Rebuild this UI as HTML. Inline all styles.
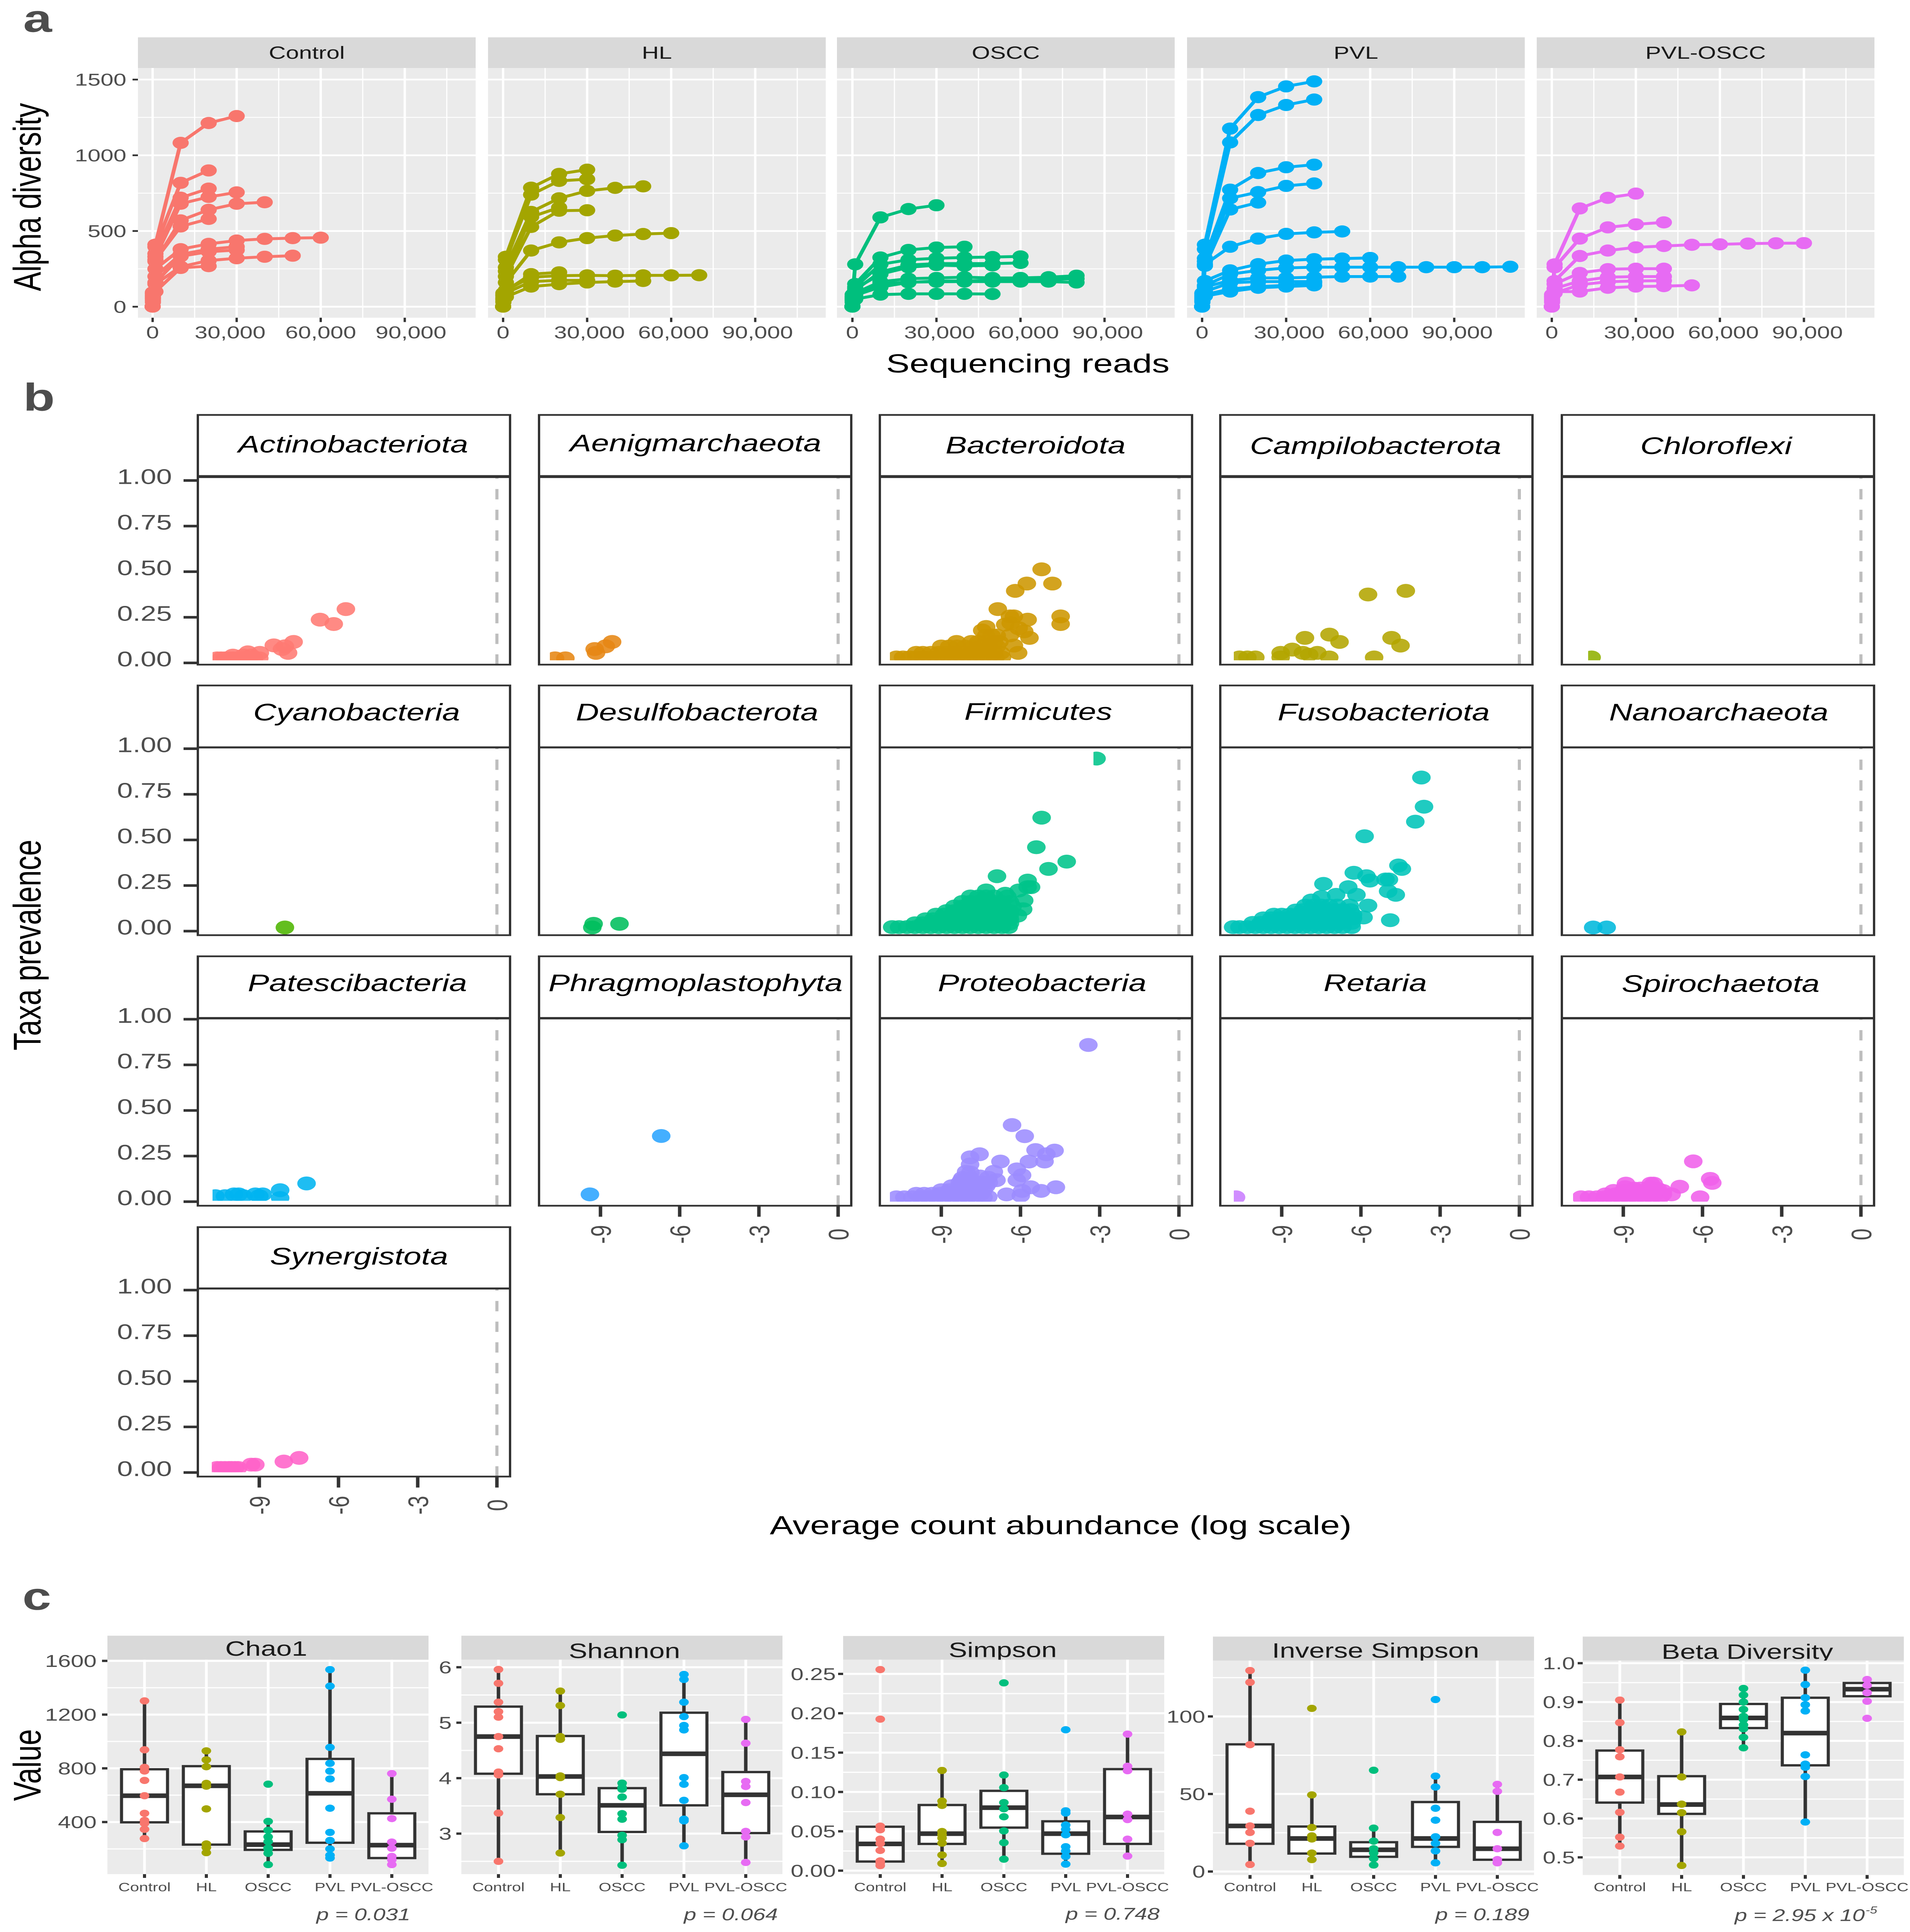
<!DOCTYPE html>
<html lang="en"><head><meta charset="utf-8"><title>Alpha diversity, taxa prevalence and diversity indices</title>
<style>html,body{margin:0;padding:0;background:#fff;overflow:hidden}svg{display:block;font-family:"Liberation Sans",sans-serif}</style></head>
<body>
<svg id="figure" width="4943" height="6677" viewBox="0 0 4943 6677" preserveAspectRatio="none">
<rect width="4943" height="6677" fill="#fff"/>
<text x="60" y="110" font-size="134" font-weight="700" fill="#4d4d4d">a</text>
<text x="60" y="1419" font-size="134" font-weight="700" fill="#4d4d4d">b</text>
<text x="58" y="5563" font-size="134" font-weight="700" fill="#4d4d4d">c</text>
<text transform="translate(105 681) rotate(-90)" text-anchor="middle" font-size="100">Alpha diversity</text>
<text x="2660" y="1287" text-anchor="middle" font-size="91">Sequencing reads</text>
<text transform="translate(105 3266) rotate(-90)" text-anchor="middle" font-size="100">Taxa prevalence</text>
<text x="2745" y="5302" text-anchor="middle" font-size="91">Average count abundance (log scale)</text>
<text transform="translate(105 6100) rotate(-90)" text-anchor="middle" font-size="100">Value</text>
</svg>
<script>
/* ---------- panel a data ---------- */
const alphaGroups=['Control','HL','OSCC','PVL','PVL-OSCC'];
const alphaYTicks=[0,500,1000,1500];
const alphaYMinor=[250,750,1250];
const alphaXTicks=[0,30000,60000,90000];
const alphaXMinor=[15000,45000,75000,105000];
const depths=[1,100,1000,10000,20000,30000,40000,50000,60000,70000,80000,90000,100000,110000];
const controlCurves=[
[1,70,410,1082,1213,1259],[1,60,395,818,900],[1,85,350,720,780],[1,50,330,680,725,755],
[1,90,300,570,640,680,690],[1,65,310,530,580],[1,40,250,380,415,437,448,453,456],
[1,75,200,346,380,396],[1,30,160,333,363,374],[1,55,150,264,305,320,330,337],[1,95,100,256,268]];
const hlCurves=[
[1,80,330,786,877,905],[1,60,310,740,831,842],[1,70,260,626,716,765,785,795],[1,45,235,593,655],
[1,90,200,527,634,637],[1,35,160,371,425,453,470,480,486],[1,55,110,195,205,207,205,207,207,208],
[1,75,105,215,227],[1,30,65,133,149,160,166,170],[1,50,90,166,174,174]];
const osccCurves=[
[1,80,280,590,645,670],[1,60,150,325,375,391,396],[1,70,130,280,310,320,325,328,332],
[1,50,110,230,275,285,285,285,289],[1,40,120,215,260,275,270,273],
[1,65,90,165,185,190,195,190,190,195,205],[1,45,75,130,160,170,170,175,178,180,185],
[1,30,85,150,162,165,166,166,166,166,160],[1,55,50,80,85,85,85,84]];
const pvlCurves=[
[1,85,410,1176,1384,1455,1488],[1,70,380,1085,1266,1332,1368],[1,60,320,773,883,921,938],
[1,90,300,716,757,798,814],[1,40,270,642,688],[1,75,280,396,450,481,491,497],
[1,50,170,240,281,305,314,318,322],[1,65,140,215,240,256,261,261,261,261,261,261,261,264],
[1,30,130,174,190,190,195,199,199,199],[1,55,100,158,166,166,166],[1,45,70,100,125,133,141],[1,35,80,117,133,141,158]];
const pvlOsccCurves=[
[1,80,280,649,719,747],[1,70,260,450,524,544,557],[1,60,170,335,371,392,401,409,412,417,419,420],
[1,50,150,223,248,251,251],[1,40,120,170,195,199,199],[1,65,100,100,125,133,136,141],[1,30,90,145,165,170,172]];
const alphaCurves=[controlCurves,hlCurves,osccCurves,pvlCurves,pvlOsccCurves];

/* ---------- panel b data: [log abundance, prevalence] ---------- */
const phyla=['Actinobacteriota','Aenigmarchaeota','Bacteroidota','Campilobacterota','Chloroflexi','Cyanobacteria','Desulfobacterota','Firmicutes','Fusobacteriota','Nanoarchaeota','Patescibacteria','Phragmoplastophyta','Proteobacteria','Retaria','Spirochaetota','Synergistota'];
const prevalenceYTicks=[0,0.25,0.5,0.75,1];
const prevalenceYLabels=['0.00','0.25','0.50','0.75','1.00'];
const abundanceXTicks=[-9,-6,-3,0];
const actinobacteriota=[[-10.6,.025],[-10.45,.025],[-10.3,.025],[-10.15,.025],[-10,.025],[-9.85,.025],[-9.7,.025],[-9.55,.025],[-9.4,.025],[-9.2,.025],[-9,.025],[-10,.04],[-9.6,.04],[-9.3,.04],[-9.43,.058],[-8.98,.055],[-7.91,.055],[-8.14,.076],[-8.03,.091],[-8.45,.096],[-7.7,.115],[-6.18,.213],[-6.7,.237],[-5.72,.295]];
const aenigmarchaeota=[[-10.72,.025],[-10.33,.025],[-9.17,.055],[-9.22,.076],[-8.8,.091],[-8.56,.115]];
const bacteroidota=[[-10.7,.03],[-10.45,.03],[-10.2,.03],[-9.95,.03],[-9.7,.03],[-9.45,.03],[-9.2,.03],[-8.95,.03],[-8.7,.03],[-8.45,.03],[-8.2,.03],[-7.95,.03],[-7.7,.03],[-7.45,.03],[-7.2,.03],[-6.95,.03],[-6.7,.03],
[-9.95,.055],[-9.7,.055],[-9.4,.055],[-9.1,.055],[-8.8,.055],[-8.5,.055],[-8.2,.055],[-7.9,.055],[-7.6,.055],[-7.3,.055],[-7,.055],[-6.75,.055],
[-9,.09],[-8.7,.09],[-8.4,.09],[-8.1,.09],[-7.8,.09],[-7.5,.09],[-7.2,.09],[-6.9,.09],
[-8.42,.115],[-7.86,.115],[-7.6,.115],[-7.3,.115],[-7,.115],[-6.8,.115],[-7.3,.15],[-7.1,.15],[-6.9,.15],[-7.45,.178],[-7.3,.197],
[-6.09,.055],[-6.25,.095],[-5.66,.137],[-6.4,.151],[-5.86,.173],[-6.07,.19],[-6.58,.21],[-6.37,.218],[-4.48,.213],[-5.73,.237],[-6.4,.255],[-6.25,.255],[-4.48,.255],[-6.86,.295],[-6.2,.395],[-5.76,.435],[-4.79,.435],[-5.2,.513]];
const campilobacterota=[[-10.6,.03],[-10.3,.03],[-10,.03],[-9.04,.03],[-7.2,.03],[-5.5,.03],[-7.96,.045],[-9.04,.055],[-8.2,.055],[-7.65,.055],[-8.6,.073],[-4.5,.095],[-6.81,.115],[-8.12,.137],[-4.84,.137],[-7.19,.155],[-5.73,.375],[-4.3,.395]];
const chloroflexi=[[-10.2,.03]];
const cyanobacteria=[[-8.03,.02]];
const desulfobacterota=[[-9.31,.02],[-9.26,.04],[-8.28,.04]];
const firmicutes=[[-10.86,.022],[-10.6,.022],[-10.3,.022],[-10,.022],[-9.7,.022],[-9.4,.022],[-9.1,.022],[-8.8,.022],[-8.5,.022],[-8.2,.022],[-7.9,.022],[-7.6,.022],[-7.3,.022],[-7,.022],[-6.7,.022],[-6.45,.022],
[-10,.043],[-9.7,.043],[-9.4,.043],[-9.1,.043],[-8.8,.043],[-8.5,.043],[-8.2,.043],[-7.9,.043],[-7.6,.043],[-7.3,.043],[-7,.043],[-6.7,.043],[-6.4,.043],
[-9.6,.065],[-9.3,.065],[-9,.065],[-8.7,.065],[-8.4,.065],[-8.1,.065],[-7.8,.065],[-7.5,.065],[-7.2,.065],[-6.9,.065],[-6.6,.065],[-6.4,.065],
[-9.2,.09],[-8.9,.09],[-8.6,.09],[-8.3,.09],[-8,.09],[-7.7,.09],[-7.4,.09],[-7.1,.09],[-6.8,.09],[-6.4,.09],[-6.1,.085],
[-8.8,.11],[-8.5,.11],[-8.2,.11],[-7.9,.11],[-7.6,.11],[-7.3,.11],[-7,.11],[-6.7,.11],[-6.4,.11],[-5.9,.12],
[-8.5,.135],[-8.2,.135],[-7.9,.135],[-7.6,.135],[-7.3,.135],[-7,.135],[-6.7,.135],[-6.3,.135],
[-8.2,.16],[-7.9,.16],[-7.6,.16],[-7.3,.16],[-7,.16],[-6.7,.16],[-6.4,.16],[-5.86,.168],[-7.9,.19],[-7.6,.19],[-7.3,.19],[-7,.19],[-6.5,.19],[-6.58,.205],[-7.3,.223],[-6.07,.223],[-5.73,.241],[-5.6,.241],[-5.73,.277],[-6.89,.301],[-4.94,.341],[-4.25,.381],[-5.4,.46],[-5.2,.622],[-3.12,.946]];
const fusobacteriota=[[-10.84,.022],[-10.6,.022],[-10.3,.022],[-10,.022],[-9.7,.022],[-9.4,.022],[-9.1,.022],[-8.8,.022],[-8.5,.022],[-8.2,.022],[-7.9,.022],[-7.6,.022],[-7.3,.022],[-7,.022],[-6.7,.022],[-6.35,.022],
[-10.1,.045],[-9.8,.045],[-9.5,.045],[-9.2,.045],[-8.9,.045],[-8.6,.045],[-8.3,.045],[-8,.045],[-7.7,.045],[-7.4,.045],[-7.1,.045],[-6.8,.045],[-6.35,.045],
[-9.7,.07],[-9.4,.07],[-9.1,.07],[-8.8,.07],[-8.5,.07],[-8.2,.07],[-7.9,.07],[-7.6,.07],[-7.3,.07],[-7,.07],[-6.7,.07],[-6.3,.07],
[-9.3,.09],[-9,.09],[-8.7,.09],[-8.4,.09],[-8.1,.09],[-7.8,.09],[-7.5,.09],[-7.2,.09],[-6.9,.09],[-6.6,.09],[-6.3,.09],[-5.9,.075],[-4.89,.06],
[-8.47,.113],[-8.2,.115],[-7.9,.115],[-7.6,.115],[-7.3,.115],[-7,.115],[-6.7,.115],[-6.4,.115],[-8.1,.14],[-7.8,.14],[-7.5,.14],[-7.2,.14],[-6.9,.14],[-6.43,.14],[-5.73,.14],
[-7.88,.168],[-7.5,.187],[-6.94,.199],[-6.17,.199],[-4.68,.199],[-4.97,.219],[-6.48,.241],[-7.42,.259],[-5.66,.277],[-5.07,.283],[-4.94,.283],[-5.79,.301],[-6.27,.32],[-4.45,.341],[-4.58,.36],[-5.86,.52],[-3.94,.6],[-3.61,.682],[-3.71,.842]];
const nanoarchaeota=[[-10.14,.02],[-9.63,.02]];
const patescibacteria=[[-10.66,.03],[-10.3,.03],[-9.96,.04],[-9.78,.04],[-9.6,.03],[-9.15,.04],[-9,.03],[-8.87,.04],[-8.21,.02],[-8.21,.063],[-7.21,.1]];
const phragmoplastophyta=[[-9.4,.04],[-6.7,.36]];
const proteobacteria=[[-10.7,.024],[-10.4,.024],[-10.1,.024],[-9.8,.024],[-9.5,.024],[-9.2,.024],[-8.9,.024],[-8.6,.024],[-8.3,.024],[-8,.024],[-7.7,.024],[-7.4,.024],[-7.22,.026],
[-9.95,.043],[-9.65,.043],[-9.35,.043],[-9.05,.043],[-8.75,.043],[-8.45,.043],[-8.15,.043],[-7.85,.043],[-7.5,.043],
[-9,.063],[-8.7,.063],[-8.4,.063],[-8.1,.063],[-7.8,.063],[-7.4,.063],[-8.6,.085],[-8.3,.085],[-8,.085],[-7.7,.085],[-7.3,.085],
[-8.3,.105],[-8,.105],[-7.7,.105],[-7.4,.105],[-7.2,.105],[-8.24,.118],[-8.2,.13],[-7.9,.13],[-7.53,.138],[-7.22,.131],[-8.06,.164],[-7.9,.16],[-7.91,.204],[-7.91,.243],[-7.55,.26],
[-7.01,.164],[-6.91,.118],[-6.53,.04],[-5.99,.033],[-5.94,.059],[-5.22,.059],[-5.61,.079],[-4.66,.079],[-6.14,.118],[-5.94,.145],[-6.14,.177],[-6.76,.22],[-5.68,.22],[-5.09,.22],[-5.02,.26],[-5.43,.283],[-4.71,.28],[-5.84,.359],[-6.32,.42],[-3.43,.859]];
const retaria=[[-10.73,.024]];
const spirochaetota=[[-10.6,.024],[-10.3,.024],[-10,.024],[-9.7,.024],[-9.4,.024],[-9.1,.024],[-8.8,.024],[-8.5,.024],[-8.2,.024],[-7.9,.024],[-7.6,.024],
[-9.68,.04],[-9.3,.04],[-9,.04],[-8.7,.04],[-8.4,.04],[-8.1,.04],[-7.8,.04],[-7.5,.04],[-7.17,.04],
[-9.37,.059],[-9,.059],[-8.7,.059],[-8.4,.059],[-8.1,.059],[-7.8,.059],[-7.5,.059],[-8.93,.079],[-8.6,.072],[-8.35,.072],[-8,.08],[-7.7,.07],[-8.9,.099],[-7.96,.099],[-7.85,.099],[-6.09,.024],[-6.86,.082],[-5.63,.103],[-5.71,.125],[-6.35,.221]];
const synergistota=[[-10.6,.025],[-10.45,.025],[-10.3,.025],[-10.15,.025],[-10.05,.025],[-9.92,.025],[-9.8,.025],[-9.31,.043],[-9.15,.043],[-8.07,.06],[-7.49,.08]];
const phylumPoints=[actinobacteriota,aenigmarchaeota,bacteroidota,campilobacterota,chloroflexi,cyanobacteria,desulfobacterota,firmicutes,fusobacteriota,nanoarchaeota,patescibacteria,phragmoplastophyta,proteobacteria,retaria,spirochaetota,synergistota];

/* ---------- panel c data ---------- */
const boxGroups=['Control','HL','OSCC','PVL','PVL-OSCC'];
const indexNames=['Chao1','Shannon','Simpson','Inverse Simpson','Beta Diversity'];
const chao1YTicks=[400,800,1200,1600];
const chao1YLabels=['400','800','1200','1600'];
const chao1YMinor=[200,600,1000,1400];
const chao1Points=[[1302,938,807,780,710,596,465,412,390,346,277],[930,863,812,688,667,498,237,210,172],[682,405,339,290,254,207,200,167,83],[1535,1412,956,837,779,721,503,323,263,200,153,132],[761,570,426,251,205,144,119,83]];
const chao1Boxes=[[277,398,596,793,1302],[172,232,670,816,930],[83,193,232,330,405],[132,246,614,870,1535],[83,132,228,465,761]];
const shannonYTicks=[3,4,5,6];
const shannonYLabels=['3','4','5','6'];
const shannonYMinor=[2.5,3.5,4.5,5.5];
const shannonPoints=[[5.96,5.71,5.37,5.2,5.1,4.75,4.53,4.11,4.06,3.37,2.5],[5.57,5.31,4.75,4.7,4.04,4.01,3.71,3.29,2.65],[5.14,3.91,3.83,3.8,3.66,3.36,3.26,2.97,2.89,2.43],[5.87,5.78,5.37,5.11,4.95,4.87,4.01,3.89,3.6,3.26,3.23,2.78],[5.06,4.63,3.94,3.85,3.56,3.04,2.94,2.48]];
const shannonBoxes=[[2.5,4.08,4.75,5.29,5.96],[2.65,3.71,4.03,4.76,5.57],[2.43,3.03,3.51,3.82,3.91],[2.78,3.51,4.44,5.18,5.87],[2.48,3.01,3.7,4.11,5.06]];
const simpsonYTicks=[0,.05,.1,.15,.2,.25];
const simpsonYLabels=['0.00','0.05','0.10','0.15','0.20','0.25'];
const simpsonYMinor=[.025,.075,.125,.175,.225];
const simpsonPoints=[[.2555,.1925,.0566,.052,.04,.0345,.0257,.0124,.0097,.0064],[.1273,.0884,.0829,.0497,.0456,.0414,.035,.0199,.0091],[.2386,.1215,.1055,.0865,.0787,.0685,.0505,.0356,.0146],[.179,.076,.0732,.058,.0525,.0456,.0304,.0249,.018,.0083],[.1735,.1326,.127,.0718,.0649,.04,.0185]];
const simpsonBoxes=[[.0064,.0116,.034,.0558,.0566],[.0091,.034,.047,.0834,.1273],[.0146,.0547,.08,.1014,.1215],[.0083,.0215,.047,.0627,.076],[.0185,.034,.0682,.129,.1735]];
const inverseYTicks=[0,50,100];
const inverseYLabels=['0','50','100'];
const inverseYMinor=[25,75,125];
const inversePoints=[[129.6,122,81.8,38.9,29.4,25.2,18.2,4.5],[105.2,49.4,28.4,23,21,11.9,7.7],[65.3,28,19.6,14.7,11.9,8.4,4.2],[110.9,61.5,54.5,40.8,33.1,22.4,18.2,13.3,5.6],[56.2,51.7,25.2,14.7,7.7,5.6]];
const inverseBoxes=[[4.5,17.9,29.4,82,129.6],[7.7,11.6,21.3,29,49.4],[4.2,9.5,14,18.9,28],[5.6,15.9,21.3,44.8,61.5],[5.6,7.6,14.7,32,56.2]];
const betaYTicks=[.5,.6,.7,.8,.9,1];
const betaYLabels=['0.5','0.6','0.7','0.8','0.9','1.0'];
const betaYMinor=[.55,.65,.75,.85,.95];
const betaPoints=[[.905,.847,.777,.759,.707,.668,.616,.552,.529],[.823,.707,.637,.615,.566,.479],[.935,.918,.9,.881,.863,.855,.841,.831,.809,.782],[.982,.945,.911,.893,.877,.764,.74,.732,.708,.591],[.958,.943,.924,.902,.858]];
const betaBoxes=[[.529,.641,.707,.775,.905],[.479,.612,.636,.709,.823],[.782,.833,.859,.895,.935],[.591,.737,.82,.911,.982],[.915,.915,.933,.949,.949]];

/* ---------- layout (not data) ---------- */
const root=document.getElementById('figure');
const NS=root.namespaceURI;
function mk(tag,attrs,parent){const e=document.createElementNS(NS,tag);for(const k in attrs)e.setAttribute(k,attrs[k]);(parent||root).appendChild(e);return e;}

const groupColors=['#F8766D','#A3A500','#00BF7D','#00B0F6','#E76BF3'];
const phylumColors=['#FF7A73','#E68613','#CD9600','#B3A500','#8FB000','#4DB500','#00BE5C','#00C48A','#00C4B8','#00B8DC','#00B4F0','#2AA4FF','#9C8CFF','#C97DFF','#F060EA','#FF62C8'];

/* keep the whole 4943x6677 figure inside the viewport when the viewport is smaller than the figure */
function fitFigure(){
  const w=Math.min(window.innerWidth||4943,4943),h=Math.min(window.innerHeight||6677,6677);
  root.setAttribute('width',w);
  root.setAttribute('height',h);
  document.documentElement.style.width=w+'px';
  document.documentElement.style.height=h+'px';
  document.body.style.width=w+'px';
  document.body.style.height=h+'px';
}
fitFigure();
window.addEventListener('resize',fitFigure);

/* ===== panel a ===== */
const aLeft=[357,1263,2166,3072,3977],aWidth=874,aStrip=[129,235],aBottom=1098,aZero=[395,1302,2206,3111,4016];
const aLabelShift=[[0,-17,0,16],[0,6,6,6],[0,8,8,8],[0,8,8,8],[0,9,9,9]];
const aXScale=217.5/30000,aYZero=1060,aYScale=785/1500;
alphaGroups.forEach(function(name,i){
  const L=aLeft[i],x=function(v){return aZero[i]+v*aXScale;},y=function(v){return aYZero-v*aYScale;};
  const g=mk('g',{});
  
  
  const strip=mk('rect',{x:L,y:aStrip[0],width:aWidth,height:aStrip[1]-aStrip[0],fill:'#D9D9D9'},g);
  
  
  const stripText=mk('text',{x:L+aWidth/2,y:203,'text-anchor':'middle','font-size':61,fill:'#1a1a1a'},g);
  stripText.textContent=name;
  
  
  const bg=mk('rect',{x:L,y:aStrip[1],width:aWidth,height:aBottom-aStrip[1],fill:'#EBEBEB'},g);
  
  
  alphaYMinor.forEach(function(v){
    const l=mk('line',{x1:L,x2:L+aWidth,y1:y(v),y2:y(v),stroke:'#fff','stroke-width':3},g);
    
    
  });
  alphaXMinor.forEach(function(v){
    const l=mk('line',{x1:x(v),x2:x(v),y1:aStrip[1],y2:aBottom,stroke:'#fff','stroke-width':3},g);
    
    
  });
  alphaYTicks.forEach(function(v){
    const l=mk('line',{x1:L,x2:L+aWidth,y1:y(v),y2:y(v),stroke:'#fff','stroke-width':6},g);
    
    
    if(i===0){
      const t=mk('line',{x1:343,x2:357,y1:y(v),y2:y(v),stroke:'#333','stroke-width':6},g);
      
      
      const lab=mk('text',{x:327,y:y(v)+21,'text-anchor':'end','font-size':60,fill:'#4d4d4d'},g);
      lab.textContent=String(v);
      
      
    }
  });
  alphaXTicks.forEach(function(v,k){
    const l=mk('line',{x1:x(v),x2:x(v),y1:aStrip[1],y2:aBottom,stroke:'#fff','stroke-width':6},g);
    
    
    const t=mk('line',{x1:x(v),x2:x(v),y1:aBottom,y2:aBottom+15,stroke:'#333','stroke-width':6},g);
    
    
    const lab=mk('text',{x:x(v)+aLabelShift[i][k],y:1169,'text-anchor':'middle','font-size':60,fill:'#4d4d4d'},g);
    lab.textContent=v.toLocaleString('en-US');
    
    
  });
  alphaCurves[i].forEach(function(curve){
    const pts=curve.map(function(v,k){return x(depths[k])+','+y(v);}).join(' ');
    const p=mk('polyline',{points:pts,fill:'none',stroke:groupColors[i],'stroke-width':10,'stroke-linejoin':'round'},g);
    
    
  });
  alphaCurves[i].forEach(function(curve){
    curve.forEach(function(v,k){
      const c=mk('circle',{cx:x(depths[k]),cy:y(v),r:21,fill:groupColors[i]},g);
      
      
    });
  });
});

/* ===== panel b ===== */
const bColLeft=[512,1395,2277,3158,4042],bWidth=808;
const bRowTop=[1434,2369,3305,4241],bStripBottom=[1647,2583,3519,4453],bPanelBottom=[2297,3232,4167,5103];
const bTickZero=[2291,3218,4153,5089],bYScale=630.5,bZeroOffset=774,bXScale=68.33;
const bStripLine=[10,7,8,7];
const bLabelX=[914,1800,2680,3560,4441,923,1804,2687,3581,4448,925,1800,2697,3559,4453,929];
const bLabelBase=[1564,1560,1567,1569,1569,2490,2490,2488,2490,2490,3425,3425,3425,3425,3428,4370];
/* clip of the plotted area: left edge in px from panel left (null=none) and bottom edge */
const bClipLeft=[38,28,26,35,68,null,null,null,null,null,38,null,26,35,29,36];
const bClipBottom=[2282,2282,2282,2282,2282,null,null,null,null,null,4150,null,4153,4153,4153,5088];
const defs=mk('defs',{});
phyla.forEach(function(name,i){
  const row=Math.floor(i/5),col=i%5,L=bColLeft[col],top=bStripBottom[row],bot=bPanelBottom[row];
  const x=function(v){return L+bZeroOffset+v*bXScale;},y=function(v){return bTickZero[row]-v*bYScale;};
  const g=mk('g',{});
  
  
  const strip=mk('rect',{x:L,y:bRowTop[row],width:bWidth,height:top-bRowTop[row],fill:'#fff',stroke:'#333','stroke-width':6},g);
  
  
  const stripText=mk('text',{x:bLabelX[i],y:bLabelBase[i],'text-anchor':'middle','font-size':83,'font-style':'italic',fill:'#000'},g);
  stripText.textContent=name;
  
  
  const bg=mk('rect',{x:L,y:top,width:bWidth,height:bot-top,fill:'#fff'},g);
  
  
  const zeroLine=mk('line',{x1:x(0),x2:x(0),y1:bot,y2:top,stroke:'#bebebe','stroke-width':8,'stroke-dasharray':'35.7 35.7'},g);
  
  
  const clipLeft=bClipLeft[i]===null?L:L+bClipLeft[i];
  const clipBottom=bClipBottom[i]===null?bot:bClipBottom[i];
  const cp=mk('clipPath',{id:'clip-'+i},defs);
  mk('rect',{x:clipLeft,y:top,width:L+bWidth-clipLeft,height:clipBottom-top},cp);
  const dots=mk('g',{'clip-path':'url(#clip-'+i+')'},g);
  
  
  phylumPoints[i].forEach(function(pt){
    const c=mk('circle',{cx:x(pt[0]),cy:y(pt[1]),r:24,fill:phylumColors[i],'fill-opacity':0.88},dots);
    
    
    if(pt[1]>0.9){
      const rectClip=mk('clipPath',{id:'clip-top-'+i},defs);
      mk('rect',{x:x(pt[0])-8,y:top+9,width:60,height:100},rectClip);
      c.setAttribute('clip-path','url(#clip-top-'+i+')');
    }
  });
  const frame=mk('rect',{x:L,y:top,width:bWidth,height:bot-top,fill:'none',stroke:'#333','stroke-width':6},g);
  
  
  const divider=mk('line',{x1:L-3,x2:L+bWidth+3,y1:top,y2:top,stroke:'#333','stroke-width':bStripLine[row]},g);
  
  
  if(col===0){
    prevalenceYTicks.forEach(function(v,k){
      const t=mk('line',{x1:475,x2:512,y1:y(v),y2:y(v),stroke:'#333','stroke-width':9},g);
      
      
      const lab=mk('text',{x:445,y:y(v)+12,'text-anchor':'end','font-size':73,fill:'#4d4d4d'},g);
      lab.textContent=prevalenceYLabels[k];
      
      
    });
  }
  const isBottom=(row===2&&col>0)||(row===3);
  if(isBottom){
    abundanceXTicks.forEach(function(v){
      const t=mk('line',{x1:x(v),x2:x(v),y1:bot,y2:bot+38,stroke:'#333','stroke-width':9},g);
      
      
      const lab=mk('text',{transform:'translate('+(x(v)+27)+' '+(bot+99)+') rotate(-90)','text-anchor':'middle','font-size':73,fill:'#4d4d4d'},g);
      lab.textContent=String(v);
      
      
    });
  }
});

/* ===== panel c ===== */
const cPanels=[
 {points:chao1Points,boxes:chao1Boxes,ticks:chao1YTicks,labels:chao1YLabels,minor:chao1YMinor,left:278,stripTop:5653,top:5736,bottom:6477,ref:400,refY:6297,k:557/1200,labelX:250,tickX:264,textX:689,textY:5722},
 {points:shannonPoints,boxes:shannonBoxes,ticks:shannonYTicks,labels:shannonYLabels,minor:shannonYMinor,left:1194,stripTop:5653,top:5736,bottom:6477,ref:3,refY:6337,k:191.67,labelX:1169,tickX:1181,textX:1616,textY:5730},
 {points:simpsonPoints,boxes:simpsonBoxes,ticks:simpsonYTicks,labels:simpsonYLabels,minor:simpsonYMinor,left:2182,stripTop:5654,top:5736,bottom:6477,ref:0,refY:6465,k:2720,labelX:2163,tickX:2169,textX:2595,textY:5727},
 {points:inversePoints,boxes:inverseBoxes,ticks:inverseYTicks,labels:inverseYLabels,minor:inverseYMinor,left:3139,stripTop:5656,top:5739,bottom:6480,ref:0,refY:6468,k:5.36,labelX:3119,tickX:3126,textX:3560,textY:5729},
 {points:betaPoints,boxes:betaBoxes,ticks:betaYTicks,labels:betaYLabels,minor:betaYMinor,left:4096,stripTop:5656,top:5739,bottom:6480,ref:.5,refY:6419,k:1342,labelX:4076,tickX:4083,textX:4522,textY:5733}
];
const cWidth=831,cFirst=96,cStep=160,cBoxHalf=59.5;
const pValues=['p = 0.031','p = 0.064','p = 0.748','p = 0.189','p = 2.95 x 10'];
const pRight=[1062,2013,3001,3958,4826];
const pBase=[6636,6636,6634,6636,6639];
cPanels.forEach(function(P,i){
  const x=function(k){return P.left+cFirst+k*cStep;},y=function(v){return P.refY-(v-P.ref)*P.k;};
  const g=mk('g',{});
  
  
  const strip=mk('rect',{x:P.left,y:P.stripTop,width:cWidth,height:P.top-P.stripTop,fill:'#D9D9D9'},g);
  
  
  const stripText=mk('text',{x:P.textX,y:P.textY,'text-anchor':'middle','font-size':72,fill:'#1a1a1a'},g);
  stripText.textContent=indexNames[i];
  
  
  const bg=mk('rect',{x:P.left,y:P.top,width:cWidth,height:P.bottom-P.top,fill:'#EBEBEB'},g);
  
  
  P.minor.forEach(function(v){
    if(y(v)<P.top||y(v)>P.bottom)return;
    const l=mk('line',{x1:P.left,x2:P.left+cWidth,y1:y(v),y2:y(v),stroke:'#fff','stroke-width':4},g);
    
    
  });
  P.ticks.forEach(function(v,k){
    const l=mk('line',{x1:P.left,x2:P.left+cWidth,y1:y(v),y2:y(v),stroke:'#fff','stroke-width':7},g);
    
    
    const t=mk('line',{x1:P.tickX,x2:P.left,y1:y(v),y2:y(v),stroke:'#333','stroke-width':8},g);
    
    
    const lab=mk('text',{x:P.labelX,y:y(v)+21,'text-anchor':'end','font-size':60,fill:'#4d4d4d'},g);
    lab.textContent=P.labels[k];
    
    
  });
  boxGroups.forEach(function(name,k){
    const l=mk('line',{x1:x(k),x2:x(k),y1:P.top,y2:P.bottom,stroke:'#fff','stroke-width':7},g);
    
    
    const t=mk('line',{x1:x(k),x2:x(k),y1:P.bottom,y2:P.bottom+13,stroke:'#333','stroke-width':8},g);
    
    
    const lab=mk('text',{x:x(k),y:6536,'text-anchor':'middle','font-size':42,fill:'#4d4d4d'},g);
    lab.textContent=name;
    
    
  });
  P.boxes.forEach(function(b,k){
    const whisker=mk('line',{x1:x(k),x2:x(k),y1:y(b[0]),y2:y(b[4]),stroke:'#333','stroke-width':9},g);
    
    
    const box=mk('rect',{x:x(k)-cBoxHalf,y:y(b[3]),width:2*cBoxHalf,height:y(b[1])-y(b[3]),fill:'#fff',stroke:'#333','stroke-width':8},g);
    
    
    const med=mk('line',{x1:x(k)-cBoxHalf,x2:x(k)+cBoxHalf,y1:y(b[2]),y2:y(b[2]),stroke:'#333','stroke-width':16},g);
    
    
  });
  P.points.forEach(function(list,k){
    list.forEach(function(v){
      const c=mk('circle',{cx:x(k),cy:y(v),r:12.5,fill:groupColors[k]},g);
      
      
    });
  });
  const pText=mk('text',{x:pRight[i],y:pBase[i],'text-anchor':'end','font-size':58,'font-style':'italic',fill:'#4d4d4d'},g);
  pText.textContent=pValues[i];
  
  
  if(i===4){
    const sup=mk('text',{x:pRight[i]+2,y:6613,'font-size':34,'font-style':'italic',fill:'#4d4d4d'},g);
    sup.textContent='-5';
    
    
  }
});
</script>
</body></html>
